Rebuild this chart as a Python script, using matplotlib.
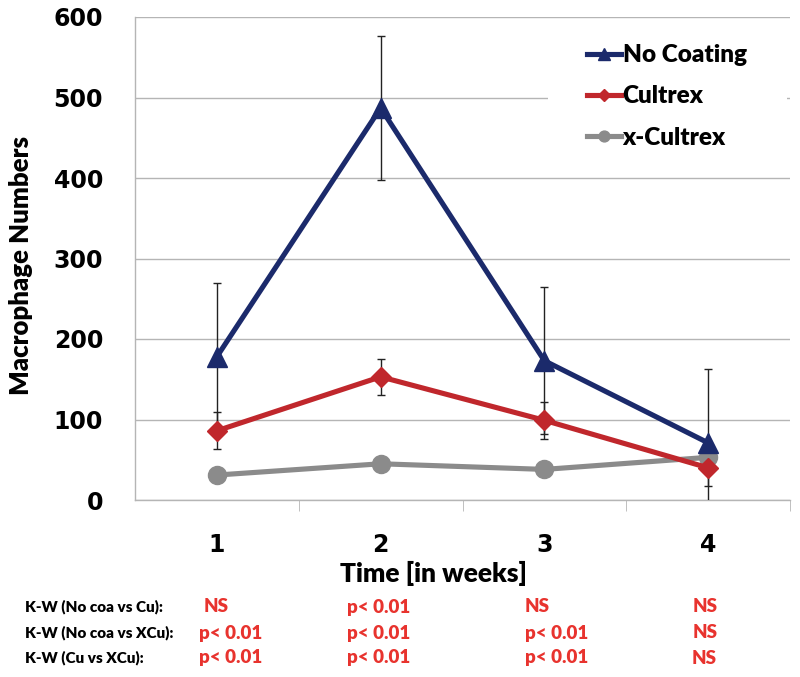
import matplotlib
matplotlib.use("Agg")
import matplotlib.pyplot as plt
from matplotlib.ticker import FixedLocator
from matplotlib.patches import Rectangle

weeks = [1, 2, 3, 4]
week_labels = ["1", "2", "3", "4"]
no_coating = [178, 487, 173, 71]
no_coating_err = [92, 89, 91, 92]
cultrex = [86, 153, 99, 40]
cultrex_err = [23, 22, 23, 22]
x_cultrex = [31, 45, 38, 53]
series_names = ["No Coating", "Cultrex", "x-Cultrex"]
yticks = [0, 100, 200, 300, 400, 500, 600]

row_labels = ["K-W (No coa vs Cu):", "K-W (No coa vs XCu):", "K-W (Cu vs XCu):"]
row_values = [["NS", "p< 0.01", "NS", "NS"],
              ["p< 0.01", "p< 0.01", "p< 0.01", "NS"],
              ["p< 0.01", "p< 0.01", "p< 0.01", "NS"]]

BLUE = "#1b2a6b"
RED = "#c0272c"
GRAY = "#8b8b8b"
GRID = "#b5b5b5"
TXTRED = "#e8332e"
NARROW = ['Lato', 'DejaVu Sans']

plt.rcParams['font.family'] = ['DejaVu Sans']
W, H = 800, 677
fig = plt.figure(figsize=(W/100, H/100), dpi=100)
ax = fig.add_axes([135/W, 1-500/H, 655/W, 483/H])

ax.errorbar(weeks, no_coating, yerr=no_coating_err, fmt='none', ecolor='#222222',
            elinewidth=1, capsize=3, capthick=1, zorder=3)
ax.errorbar(weeks, cultrex, yerr=cultrex_err, fmt='none', ecolor='#222222',
            elinewidth=1, capsize=3, capthick=1, zorder=3)
ax.plot(weeks, x_cultrex, color=GRAY, lw=3.7, marker='o', ms=13, label=series_names[2], zorder=4)
ax.plot(weeks, cultrex, color=RED, lw=3.7, marker='D', ms=10, label=series_names[1], zorder=5)
ax.plot(weeks, no_coating, color=BLUE, lw=3.7, marker='^', ms=15, label=series_names[0], zorder=6)

ax.set_xlim(0.5, 4.5)
ax.set_ylim(0, 600)
ax.set_yticks(yticks)
ax.set_yticklabels([str(v) for v in yticks])
ax.set_xticks(weeks)
ax.set_xticklabels(week_labels)
ax.xaxis.set_minor_locator(FixedLocator([1.5, 2.5, 3.5, 4.5]))
ax.tick_params(axis='x', which='major', length=0, pad=24, labelsize=17)
ax.tick_params(axis='x', which='minor', length=8, color=GRID, direction='out')
ax.tick_params(axis='y', length=0, pad=23, labelsize=17)
for lab in ax.get_xticklabels() + ax.get_yticklabels():
    lab.set_fontweight('bold')

ax.grid(axis='y', color=GRID, lw=1, zorder=0)
ax.set_axisbelow(True)
for s in ['top', 'right']:
    ax.spines[s].set_visible(False)
for s in ['left', 'bottom']:
    ax.spines[s].set_color(GRID)
    ax.spines[s].set_linewidth(1)

ax.set_xlabel("Time [in weeks]", fontsize=19, fontweight='heavy', family=NARROW)
ax.xaxis.set_label_coords((433-135)/655, -(561-500)/483)
ax.set_ylabel("Macrophage Numbers", fontsize=18.5, fontweight='heavy', family=NARROW)
ax.yaxis.set_label_coords(-(135-33)/655, 0.485)

# white legend area covering gridlines
ax.add_patch(Rectangle(((548-135)/655, 1-(170-17)/483), (787-548)/655, (170-25)/483,
                       transform=ax.transAxes, facecolor='white', edgecolor='none', zorder=1))

handles, labels = ax.get_legend_handles_labels()
order = [2, 1, 0]
leg = ax.legend([handles[i] for i in order], [labels[i] for i in order],
                loc='upper left', bbox_to_anchor=((588-135)/655 - 0.027, 1-(27-17)/483),
                frameon=False,
                prop={'family': NARROW, 'weight': 'heavy', 'size': 17.5},
                handlelength=1.4, handletextpad=0.05, labelspacing=0.8, borderpad=0.2,
                markerscale=0.6)
leg.set_zorder(7)

row_y = [607, 633, 658]
col_x = [[204, 347, 525, 693], [199, 347, 525, 693], [199, 347, 525, 692]]
for r in range(3):
    fig.text(25/W, 1-row_y[r]/H, row_labels[r], fontsize=11, fontweight='heavy',
             family=NARROW, va='center', ha='left', color='black')
    for c in range(4):
        fig.text(col_x[r][c]/W, 1-row_y[r]/H, row_values[r][c], fontsize=13.5, fontweight='heavy',
                 family=NARROW, va='center', ha='left', color=TXTRED)

fig.savefig("out.png", dpi=100)
